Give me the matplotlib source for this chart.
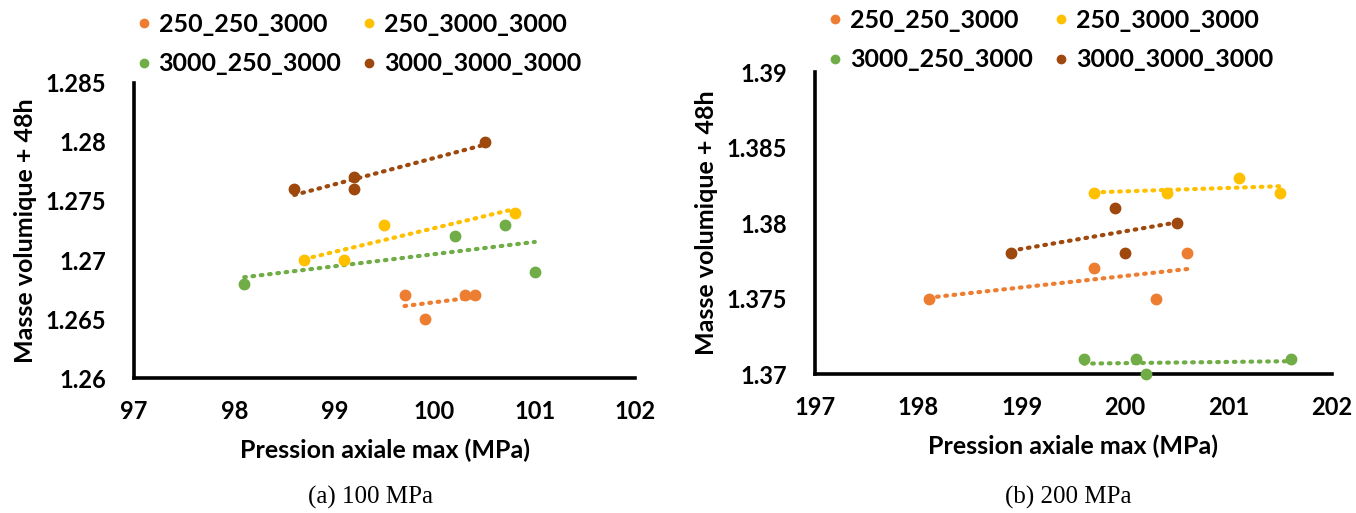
import numpy as np
import matplotlib
matplotlib.use("Agg")
import matplotlib.pyplot as plt

plt.rcParams['font.family'] = ['Lato', 'DejaVu Sans']

names = ["250_250_3000", "250_3000_3000", "3000_250_3000", "3000_3000_3000"]
colors = ["#ED7D31", "#FFC000", "#70AD47", "#9E480E"]

# (a) 100 MPa
x100 = [[99.7, 99.9, 100.3, 100.4],
        [98.7, 99.1, 99.5, 100.8],
        [98.1, 100.2, 100.7, 101.0],
        [98.6, 99.2, 99.2, 100.5]]
y100 = [[1.267, 1.265, 1.267, 1.267],
        [1.270, 1.270, 1.273, 1.274],
        [1.268, 1.272, 1.273, 1.269],
        [1.276, 1.277, 1.276, 1.280]]
xt100 = [97, 98, 99, 100, 101, 102]
yt100 = [1.26, 1.265, 1.27, 1.275, 1.28, 1.285]
yl100 = ["1.26", "1.265", "1.27", "1.275", "1.28", "1.285"]

# (b) 200 MPa
x200 = [[198.1, 199.7, 200.3, 200.6],
        [199.7, 200.4, 201.1, 201.5],
        [199.6, 200.1, 200.2, 201.6],
        [198.9, 199.9, 200.0, 200.5]]
y200 = [[1.375, 1.377, 1.375, 1.378],
        [1.382, 1.382, 1.383, 1.382],
        [1.371, 1.371, 1.370, 1.371],
        [1.378, 1.381, 1.378, 1.380]]
xt200 = [197, 198, 199, 200, 201, 202]
yt200 = [1.37, 1.375, 1.38, 1.385, 1.39]
yl200 = ["1.37", "1.375", "1.38", "1.385", "1.39"]

W, H = 1356, 513
fig = plt.figure(figsize=(W / 100, H / 100), dpi=100)


def box(x0, x1, top, bottom):
    return [x0 / W, 1 - bottom / H, (x1 - x0) / W, (bottom - top) / H]


def panel(ax, xs, ys, xt, yt, yl, caption, cap_x, leg_x, leg_y, colsp):
    handles = []
    for i in range(4):
        xa = np.array(xs[i])
        ya = np.array(ys[i])
        h, = ax.plot(xa, ya, 'o', color=colors[i], ms=7.5, label=names[i],
                     clip_on=False, zorder=3)
        handles.append(h)
        # linear trendline over the data range
        k, b = np.polyfit(xa, ya, 1)
        xx = np.array([xa.min(), xa.max()])
        ax.plot(xx, k * xx + b, color=colors[i], lw=3, ls=(0, (0.4, 1.6)),
                dash_capstyle='round', clip_on=False, zorder=2)
    ax.set_xlim(xt[0], xt[-1])
    ax.set_ylim(yt[0], yt[-1])
    ax.set_xticks(xt)
    ax.set_xticklabels([str(v) for v in xt])
    ax.set_yticks(yt)
    ax.set_yticklabels(yl)
    for s in ['top', 'right']:
        ax.spines[s].set_visible(False)
    for s in ['left', 'bottom']:
        ax.spines[s].set_linewidth(2.6)
        ax.spines[s].set_color('black')
    ax.tick_params(length=0, labelsize=17)
    ax.tick_params(axis='x', pad=16)
    ax.tick_params(axis='y', pad=20)
    for t in ax.get_xticklabels() + ax.get_yticklabels():
        t.set_fontweight('bold')
    ax.set_xlabel("Pression axiale max (MPa)", fontsize=18, fontweight='bold',
                  labelpad=11)
    ax.set_ylabel("Masse volumique + 48h", fontsize=18, fontweight='bold',
                  labelpad=6)
    order = [0, 2, 1, 3]
    leg = fig.legend([handles[j] for j in order], [names[j] for j in order],
                     loc='upper left', bbox_to_anchor=(leg_x / W, 1 - leg_y / H),
                     ncol=2, frameon=False, fontsize=18, markerscale=0.8,
                     handletextpad=0.3, columnspacing=colsp, labelspacing=0.65,
                     borderpad=0, borderaxespad=0, handlelength=0.6)
    for t in leg.get_texts():
        t.set_fontweight('bold')
    fig.text(cap_x / W, 1 - 497 / H, caption, ha='center', va='center',
             fontsize=18, family='Liberation Serif')


ax1 = fig.add_axes(box(134, 635, 83, 378))
panel(ax1, x100, y100, xt100, yt100, yl100, "(a) 100 MPa", 370, 136, 13, 0.8)

ax2 = fig.add_axes(box(815, 1332, 72, 374))
panel(ax2, x200, y200, xt200, yt200, yl200, "(b) 200 MPa", 1068, 828, 9, 0.8)

fig.savefig("out.png", dpi=100)
